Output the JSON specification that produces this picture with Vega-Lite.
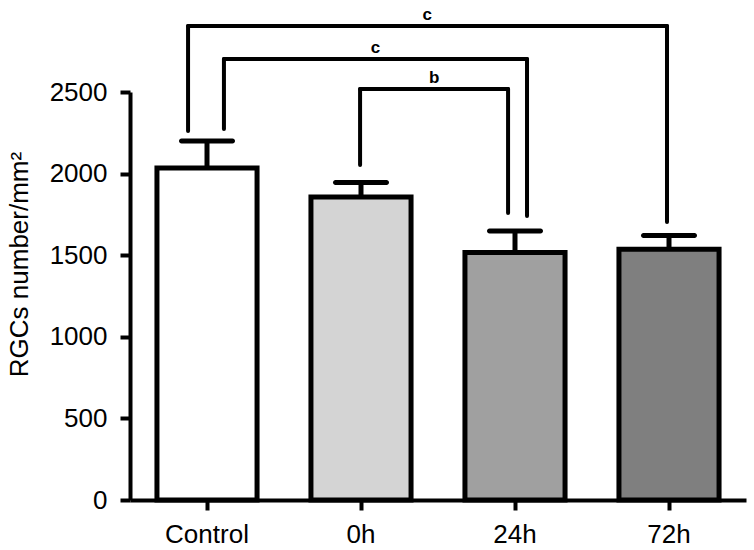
{
  "$schema": "https://vega.github.io/schema/vega-lite/v6.json",
  "autosize": {"type": "none"},
  "padding": {"left": 130, "top": 92, "right": 8, "bottom": 50},
  "width": 616,
  "height": 408,
  "background": "white",
  "config": {
    "font": "Liberation Sans",
    "view": {"stroke": null},
    "axis": {"grid": false}
  },
  "datasets": {
    "bars": [
      {"group": "Control", "mean": 2035, "upper": 2200},
      {"group": "0h", "mean": 1857, "upper": 1945},
      {"group": "24h", "mean": 1516, "upper": 1648},
      {"group": "72h", "mean": 1536, "upper": 1620}
    ],
    "brackets": [
      {"x1": 0.377, "x2": 3.487, "top": 2905, "leftEnd": 2261, "rightEnd": 1703, "labelX": 1.93, "label": "c"},
      {"x1": 0.610, "x2": 2.578, "top": 2702, "leftEnd": 2273, "rightEnd": 1740, "labelX": 1.594, "label": "c"},
      {"x1": 1.494, "x2": 2.455, "top": 2518, "leftEnd": 2053, "rightEnd": 1759, "labelX": 1.975, "label": "b"}
    ]
  },
  "layer": [
    {
      "data": {"name": "bars"},
      "layer": [
        {
          "mark": {"type": "bar", "stroke": "black", "strokeWidth": 5, "strokeJoin": "miter"},
          "encoding": {
            "x": {
              "field": "group", "type": "nominal", "sort": ["Control", "0h", "24h", "72h"],
              "scale": {"paddingInner": 0.35, "paddingOuter": 0.175},
              "axis": {
                "title": null, "labelAngle": 0, "labelFontSize": 26, "labelColor": "black",
                "labelPadding": 11, "tickSize": 10, "tickWidth": 4, "tickColor": "black",
                "domainColor": "black", "domainWidth": 4, "labelFont": "Liberation Sans"
              }
            },
            "y": {
              "field": "mean", "type": "quantitative",
              "scale": {"domain": [0, 2500], "nice": false, "zero": true},
              "axis": {
                "values": [0, 500, 1000, 1500, 2000, 2500], "format": "d",
                "title": "RGCs number/mm²", "titleFontSize": 26, "titleFontWeight": "normal",
                "titleColor": "black", "titleAngle": -90, "titleAlign": "center",
                "titleBaseline": "bottom", "titleX": -98, "titleY": 172,
                "labelFontSize": 26, "labelColor": "black", "labelPadding": 13,
                "tickSize": 10, "tickWidth": 4, "tickColor": "black",
                "domainColor": "black", "domainWidth": 4, "labelFont": "Liberation Sans"
              }
            },
            "fill": {
              "field": "group", "type": "nominal",
              "scale": {"domain": ["Control", "0h", "24h", "72h"], "range": ["#ffffff", "#d4d4d4", "#a0a0a0", "#7f7f7f"]},
              "legend": null
            }
          }
        },
        {
          "mark": {"type": "rule", "color": "black", "strokeWidth": 5},
          "encoding": {
            "x": {"field": "group", "type": "nominal", "sort": ["Control", "0h", "24h", "72h"]},
            "y": {"field": "mean", "type": "quantitative", "scale": {"domain": [0, 2500], "nice": false}},
            "y2": {"field": "upper"}
          }
        },
        {
          "mark": {"type": "tick", "color": "black", "size": 56, "thickness": 5, "cornerRadius": 2.5, "opacity": 1},
          "encoding": {
            "x": {"field": "group", "type": "nominal", "sort": ["Control", "0h", "24h", "72h"]},
            "y": {"field": "upper", "type": "quantitative", "scale": {"domain": [0, 2500], "nice": false}}
          }
        }
      ]
    },
    {
      "data": {"name": "brackets"},
      "layer": [
        {
          "mark": {"type": "rule", "color": "black", "strokeWidth": 4, "strokeCap": "round"},
          "encoding": {
            "x": {"field": "x1", "type": "quantitative", "scale": {"domain": [0, 4], "nice": false, "zero": false}, "axis": null},
            "x2": {"field": "x2"},
            "y": {"field": "top", "type": "quantitative", "scale": {"domain": [0, 2500], "nice": false}}
          }
        },
        {
          "mark": {"type": "rule", "color": "black", "strokeWidth": 4, "strokeCap": "round"},
          "encoding": {
            "x": {"field": "x1", "type": "quantitative", "scale": {"domain": [0, 4], "nice": false, "zero": false}, "axis": null},
            "y": {"field": "top", "type": "quantitative", "scale": {"domain": [0, 2500], "nice": false}},
            "y2": {"field": "leftEnd"}
          }
        },
        {
          "mark": {"type": "rule", "color": "black", "strokeWidth": 4, "strokeCap": "round"},
          "encoding": {
            "x": {"field": "x2", "type": "quantitative", "scale": {"domain": [0, 4], "nice": false, "zero": false}, "axis": null},
            "y": {"field": "top", "type": "quantitative", "scale": {"domain": [0, 2500], "nice": false}},
            "y2": {"field": "rightEnd"}
          }
        },
        {
          "mark": {"type": "text", "color": "black", "fontSize": 17, "fontWeight": "bold", "baseline": "alphabetic", "dy": -6, "font": "Liberation Sans"},
          "encoding": {
            "x": {"field": "labelX", "type": "quantitative", "scale": {"domain": [0, 4], "nice": false, "zero": false}, "axis": null},
            "y": {"field": "top", "type": "quantitative", "scale": {"domain": [0, 2500], "nice": false}},
            "text": {"field": "label"}
          }
        }
      ]
    }
  ],
  "resolve": {"scale": {"x": "independent", "fill": "independent"}, "axis": {"x": "independent"}}
}
